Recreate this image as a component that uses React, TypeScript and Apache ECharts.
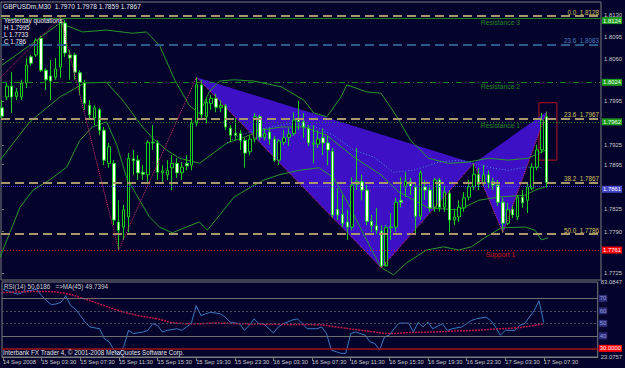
import React, { useEffect, useRef } from "react";
import * as echarts from "echarts";

// ---------- time axis ----------
const timeTickIdx = [0, 8, 16, 24, 32, 40, 48, 56, 64, 72, 80, 88, 96, 104, 112];
const timeTickLabels = [
  "14 Sep 2008", "15 Sep 03:30", "15 Sep 07:30", "15 Sep 11:30", "15 Sep 15:30",
  "15 Sep 19:30", "15 Sep 23:30", "16 Sep 03:30", "16 Sep 07:30", "16 Sep 11:30",
  "16 Sep 15:30", "16 Sep 19:30", "16 Sep 23:30", "17 Sep 03:30", "17 Sep 07:30",
];

// ---------- GBPUSD M30 candles ----------
const opens = [
  1.7984, 1.8001, 1.8018, 1.8002, 1.8001, 1.8023, 1.8064, 1.8067, 1.8093, 1.8043,
  1.8034, 1.8032, 1.8048, 1.8117, 1.8067, 1.8067, 1.8039, 1.8023, 1.7988, 1.7968,
  1.7981, 1.7949, 1.7897, 1.7897, 1.7805, 1.7797, 1.7813, 1.7904, 1.7902, 1.7883,
  1.7879, 1.7930, 1.7929, 1.7882, 1.7879, 1.7890, 1.7897, 1.7882, 1.7897, 1.7894,
  1.7960, 1.8020, 1.7970, 1.7991, 1.7999, 1.7984, 1.7987, 1.7952, 1.7944, 1.7944,
  1.7933, 1.7915, 1.7935, 1.7970, 1.7938, 1.7946, 1.7935, 1.7902, 1.7930, 1.7938,
  1.7944, 1.7966, 1.7962, 1.7952, 1.7927, 1.7927, 1.7937, 1.7929, 1.7916, 1.7825,
  1.7817, 1.7805, 1.7797, 1.7864, 1.7868, 1.7855, 1.7806, 1.7799, 1.7791, 1.7736,
  1.7796, 1.7797, 1.7839, 1.7861, 1.7868, 1.7860, 1.7814, 1.7860, 1.7855, 1.7828,
  1.7871, 1.7828, 1.7850, 1.7808, 1.7813, 1.7827, 1.7844, 1.7860, 1.7880, 1.7866,
  1.7879, 1.7868, 1.7863, 1.7836, 1.7803, 1.7825, 1.7813, 1.7844, 1.7839, 1.7858,
  1.7891, 1.7918, 1.7970,
];
const closes = [
  1.7971, 1.8018, 1.8001, 1.8009, 1.8023, 1.8051, 1.8054, 1.8090, 1.8043, 1.8028,
  1.8026, 1.8045, 1.8117, 1.8070, 1.8062, 1.8040, 1.8024, 1.7991, 1.7973, 1.7984,
  1.7949, 1.7902, 1.7923, 1.7808, 1.7792, 1.7824, 1.7905, 1.7901, 1.7882, 1.7880,
  1.7930, 1.7929, 1.7883, 1.7885, 1.7886, 1.7897, 1.7882, 1.7891, 1.7893, 1.7960,
  1.8020, 1.7973, 1.7993, 1.7999, 1.7985, 1.7988, 1.7954, 1.7941, 1.7941, 1.7933,
  1.7913, 1.7935, 1.7970, 1.7938, 1.7944, 1.7935, 1.7902, 1.7932, 1.7937, 1.7943,
  1.7965, 1.7962, 1.7954, 1.7929, 1.7929, 1.7935, 1.7929, 1.7918, 1.7816, 1.7816,
  1.7803, 1.7797, 1.7863, 1.7869, 1.7855, 1.7806, 1.7799, 1.7792, 1.7736, 1.7796,
  1.7797, 1.7836, 1.7836, 1.7869, 1.7861, 1.7814, 1.7882, 1.7855, 1.7827, 1.7871,
  1.7828, 1.7852, 1.7808, 1.7813, 1.7828, 1.7843, 1.7860, 1.7880, 1.7864, 1.7879,
  1.7866, 1.7863, 1.7836, 1.7803, 1.7824, 1.7816, 1.7844, 1.7835, 1.7860, 1.7891,
  1.7918, 1.7965, 1.7867,
];
const highs = [
  1.7996, 1.8023, 1.8040, 1.8015, 1.8028, 1.8062, 1.8067, 1.8093, 1.8097, 1.8046,
  1.8059, 1.8062, 1.8126, 1.8122, 1.8075, 1.8070, 1.8043, 1.8028, 1.7996, 1.7988,
  1.7984, 1.7954, 1.7929, 1.7902, 1.7839, 1.7832, 1.7913, 1.7918, 1.7910, 1.7894,
  1.7933, 1.7957, 1.7933, 1.7894, 1.7902, 1.7910, 1.7905, 1.7899, 1.7910, 1.7965,
  1.8032, 1.8028, 1.7999, 1.8004, 1.8006, 1.7996, 1.7990, 1.7957, 1.7968, 1.7949,
  1.7937, 1.7941, 1.7976, 1.7973, 1.7952, 1.7952, 1.7940, 1.7935, 1.7949, 1.7952,
  1.7977, 1.7995, 1.7976, 1.7957, 1.7957, 1.7949, 1.7952, 1.7940, 1.7921, 1.7858,
  1.7847, 1.7824, 1.7875, 1.7921, 1.7879, 1.7863, 1.7816, 1.7827, 1.7800, 1.7800,
  1.7819, 1.7843, 1.7875, 1.7883, 1.7874, 1.7866, 1.7886, 1.7871, 1.7863, 1.7874,
  1.7874, 1.7861, 1.7855, 1.7824, 1.7839, 1.7852, 1.7871, 1.7897, 1.7890, 1.7894,
  1.7886, 1.7874, 1.7871, 1.7843, 1.7835, 1.7832, 1.7847, 1.7855, 1.7866, 1.7897,
  1.7926, 1.7976, 1.7978,
];
const lows = [
  1.7968, 1.7996, 1.7976, 1.7996, 1.7996, 1.8015, 1.8050, 1.8064, 1.8040, 1.8012,
  1.7996, 1.8028, 1.8031, 1.8064, 1.8028, 1.8028, 1.8004, 1.7981, 1.7968, 1.7957,
  1.7941, 1.7894, 1.7890, 1.7800, 1.7761, 1.7777, 1.7789, 1.7879, 1.7871, 1.7871,
  1.7868, 1.7918, 1.7871, 1.7868, 1.7871, 1.7855, 1.7874, 1.7871, 1.7886, 1.7886,
  1.7955, 1.7965, 1.7960, 1.7981, 1.7977, 1.7977, 1.7949, 1.7930, 1.7933, 1.7918,
  1.7890, 1.7910, 1.7930, 1.7933, 1.7933, 1.7926, 1.7899, 1.7894, 1.7926, 1.7924,
  1.7940, 1.7949, 1.7937, 1.7924, 1.7897, 1.7921, 1.7910, 1.7894, 1.7811, 1.7808,
  1.7797, 1.7777, 1.7792, 1.7855, 1.7839, 1.7800, 1.7789, 1.7786, 1.7733, 1.7742,
  1.7777, 1.7789, 1.7828, 1.7844, 1.7847, 1.7785, 1.7808, 1.7839, 1.7821, 1.7821,
  1.7821, 1.7821, 1.7789, 1.7800, 1.7805, 1.7821, 1.7839, 1.7855, 1.7855, 1.7860,
  1.7858, 1.7855, 1.7830, 1.7788, 1.7800, 1.7811, 1.7808, 1.7827, 1.7819, 1.7855,
  1.7886, 1.7913, 1.7859,
];

// ---------- bands (bar position, price) ----------
const upperIdx = [0, 5.7, 11.9, 16.6, 21.5, 26.8, 29.7, 32.4, 35.5, 38.5, 40.6, 42.6, 44.7, 47.7, 51.8, 57.4, 62.1, 64.1, 66.8, 69.7, 70.9, 75.0, 77.9, 79.9, 81.6, 84.0, 87.7, 91.8, 95.9, 100.0, 104.1, 108.2, 111.9];
const upperVal = [1.8051, 1.8082, 1.8117, 1.8103, 1.8106, 1.8101, 1.8103, 1.8082, 1.8028, 1.7988, 1.7975, 1.8009, 1.8026, 1.8028, 1.8026, 1.8017, 1.7996, 1.7976, 1.7970, 1.8001, 1.8020, 1.8009, 1.8007, 1.7985, 1.7965, 1.7933, 1.7905, 1.7897, 1.7899, 1.7905, 1.7902, 1.7905, 1.7918];
const midIdx = [-0.4, 5.7, 11.9, 17.0, 21.5, 24.8, 28.9, 30.9, 33.8, 36.5, 40.6, 46.3, 49.8, 53.3, 57.4, 62.1, 66.8, 72.3, 77.9, 81.6, 87.7, 93.9, 98.0, 102.0, 107.6, 109.6, 111.7];
const midVal = [1.7902, 1.7962, 1.8001, 1.8023, 1.8024, 1.7996, 1.7954, 1.7937, 1.7918, 1.7905, 1.7897, 1.7929, 1.7938, 1.7949, 1.7954, 1.7954, 1.7941, 1.7907, 1.7879, 1.7852, 1.7827, 1.7824, 1.7839, 1.7844, 1.7847, 1.7855, 1.7860];
const lowerIdx = [-0.4, 1.6, 3.7, 6.4, 9.8, 13.3, 16.0, 18.6, 21.5, 23.6, 25.6, 28.3, 30.3, 32.4, 35.0, 37.9, 40.6, 42.2, 45.1, 47.7, 51.2, 53.9, 57.0, 61.1, 65.2, 68.2, 71.3, 74.4, 77.9, 80.5, 83.2, 87.3, 90.8, 93.9, 96.5, 99.4, 102.7, 107.6, 109.6, 110.9, 112.3];
const lowerVal = [1.7750, 1.7788, 1.7828, 1.7855, 1.7871, 1.7891, 1.7933, 1.7954, 1.7962, 1.7926, 1.7875, 1.7839, 1.7813, 1.7797, 1.7788, 1.7797, 1.7805, 1.7792, 1.7819, 1.7844, 1.7860, 1.7871, 1.7879, 1.7886, 1.7890, 1.7874, 1.7832, 1.7785, 1.7734, 1.7722, 1.7741, 1.7761, 1.7766, 1.7761, 1.7766, 1.7781, 1.7796, 1.7797, 1.7792, 1.7777, 1.7780];
const maIdxMain = [46.3, 48.8, 53.9, 59.0, 64.1, 68.2, 72.3, 76.4, 80.5, 84.6, 89.8, 93.9, 97.3, 100.6, 104.1, 107.6, 111.3];
const maValMain = [1.7929, 1.7941, 1.7952, 1.7959, 1.7955, 1.7941, 1.7918, 1.7907, 1.7883, 1.7886, 1.7899, 1.7902, 1.7897, 1.7890, 1.7886, 1.7891, 1.7890];

// ---------- zigzag & harmonic pattern ----------
const zzIdx = [-0.4, 12, 24, 40, 78, 97, 103, 112];
const zzPrice = [1.8031, 1.8126, 1.7761, 1.8032, 1.7733, 1.7897, 1.7788, 1.7978];
const patIdx = [40, 78, 97, 103, 112]; // X A B C D
const patPrice = [1.8032, 1.7733, 1.7897, 1.7788, 1.7978];
const przIdx = [110.4, 114.1];
const przPrice = [1.7992, 1.7902];

// ---------- levels ----------
const fibValues = [1.8128, 1.7967, 1.7867, 1.7786];
const fibNames = ["0.0", "23.6", "38.2", "50.0"];
const blueFibValue = 1.8083;
const blueFibName = "23.6";
const srValues = [1.8124, 1.8024, 1.7962, 1.7761];
const srNames = ["Resistance 3", "Resistance 2", "Resistance 1", "Support 1"];
const bidPrice = 1.7867;
const dotLinePrice = 1.7861;
const priceTicks = [1.813, 1.8095, 1.806, 1.7995, 1.7925, 1.7895, 1.7825, 1.779, 1.7725];

// ---------- RSI ----------
const rsiIdx = [0, 1, 3, 5, 6, 7, 8, 9, 10, 11, 12, 13, 14, 15, 16, 17, 18, 20, 21, 22, 23, 24, 25, 26, 27, 29, 30, 31, 32, 33, 34, 36, 37, 38, 39, 40, 41, 42, 43, 45, 46, 47, 49, 50, 51, 52, 53, 54, 56, 57, 58, 60, 61, 62, 63, 65, 66, 67, 68, 69, 70, 71, 72, 73, 75, 76, 77, 78, 79, 80, 81, 82, 84, 85, 86, 87, 88, 89, 91, 92, 93, 95, 97, 98, 100, 101, 102, 103, 104, 106, 107, 108, 109, 110, 111, 112];
const rsiVal = [77.3, 76.0, 73.4, 76.0, 76.5, 77.3, 72.1, 68.1, 65.0, 65.5, 66.8, 72.1, 64.2, 61.5, 56.3, 51.0, 47.1, 45.7, 37.8, 35.2, 28.6, 24.7, 31.3, 44.4, 41.8, 43.1, 44.4, 49.7, 48.4, 43.1, 44.4, 45.7, 44.4, 47.1, 50.0, 64.2, 56.3, 57.6, 58.9, 57.6, 55.0, 51.0, 49.7, 44.4, 48.4, 53.6, 49.7, 49.7, 42.3, 47.1, 49.7, 52.8, 53.6, 49.7, 45.7, 45.7, 47.1, 41.8, 28.6, 27.3, 26.0, 26.0, 41.8, 43.1, 40.5, 35.2, 33.9, 28.6, 39.1, 40.5, 45.7, 50.2, 50.2, 43.1, 51.0, 47.1, 51.0, 45.7, 49.7, 44.4, 45.7, 47.1, 52.3, 53.6, 55.0, 52.3, 47.1, 40.5, 44.4, 44.4, 48.4, 49.7, 55.0, 60.2, 68.1, 50.6];
const rsiMaIdx = [0, 8, 13, 16, 20, 24, 28, 32, 36, 40, 44, 49, 57, 65, 69, 73, 77, 80, 84, 89, 94, 98, 102, 106, 109, 112];
const rsiMaVal = [74.7, 75.5, 73.9, 70.7, 65.5, 60.2, 56.3, 53.6, 50.2, 49.7, 50.2, 49.7, 49.2, 48.9, 47.1, 45.0, 43.1, 41.8, 42.6, 43.1, 43.9, 44.4, 45.5, 46.3, 47.8, 49.7];
const rsiLevels = [70, 60, 50, 40, 30];
const rsiRange = [23.0757, 83.0847];

// ---------- styling ----------
const BG = "#03032c";
const FONT = "'Liberation Sans', sans-serif";
const FS = 6.3;
const FS_TIME = 5.8;
const FS_BOX = 5.9;
const AXIS_TEXT = "#c8c8c8";
const BORDER = "#7c7c7c";
const CANDLE_GREEN = "#18d018";
const BAND_GREEN = "#2c962c";
const KHAKI = "#a8976a";
const KHAKI_TEXT = "#d4c25a";
const BLUE_DASH = "#2b5a8a";
const BLUE_TEXT = "#4d7dbf";
const SR_GREEN = "#1f7f1f";
const SR_TEXT = "#22841f";
const RED = "#d01818";
const TRI = "#3d10c6";
const PINK = "#d0306a";
const CYAN = "#3f8fd0";

const X_MIN = -0.205;
const X_MAX = 123.16;

function pairs(xs: number[], ys: number[]) {
  return xs.map((x, i) => [x, ys[i]]);
}

function buildOption() {
  const candleData = opens.map((o, i) => [i, o, closes[i], lows[i], highs[i]]);
  const tri = [
    [patIdx[0], patPrice[0], patIdx[1], patPrice[1], patIdx[2], patPrice[2]],
    [patIdx[2], patPrice[2], patIdx[3], patPrice[3], patIdx[4], patPrice[4]],
  ];
  const boxLabel = (text: string, bg: string, fg: string, dy = 0) => ({
    show: true,
    position: "end",
    distance: 1,
    offset: [0, dy],
    formatter: text,
    backgroundColor: bg,
    color: fg,
    fontSize: FS_BOX,
    fontFamily: FONT,
    padding: [1, 1, 0, 1],
  });

  const mainMarkLines: any[] = [];
  fibValues.forEach((v, k) => {
    mainMarkLines.push({
      yAxis: v,
      lineStyle: { color: KHAKI, type: [9, 5], width: 2 },
      label: {
        show: true, position: "insideEndTop", distance: [2, 1],
        formatter: `${fibNames[k]}  ${v.toFixed(4)}`,
        color: KHAKI_TEXT, fontSize: FS, fontFamily: FONT,
      },
    });
  });
  mainMarkLines.push({
    yAxis: blueFibValue,
    lineStyle: { color: BLUE_DASH, type: [9, 5], width: 2 },
    label: {
      show: true, position: "insideEndTop", distance: [2, 1],
      formatter: `${blueFibName}  ${blueFibValue.toFixed(4)}`,
      color: BLUE_TEXT, fontSize: FS, fontFamily: FONT,
    },
  });
  const srStyles = [
    { color: SR_GREEN, type: "solid", width: 1 },
    { color: SR_GREEN, type: [6, 3, 1, 3], width: 1 },
    { color: SR_GREEN, type: [1, 2], width: 1 },
    { color: RED, type: [1, 2], width: 1 },
  ];
  srValues.forEach((v, k) => {
    const isSup = k === 3;
    mainMarkLines.push({
      yAxis: v,
      lineStyle: srStyles[k],
      label: boxLabel(v.toFixed(4), isSup ? "#ff0000" : "#1f9a1f", isSup ? "#ffffff" : "#e8ffe8", k === 0 ? 2 : 0),
    });
  });
  mainMarkLines.push({
    yAxis: dotLinePrice,
    lineStyle: { color: "#3c3cff", type: [1, 1], width: 1 },
    label: boxLabel(dotLinePrice.toFixed(4), "#4646c8", "#ffffff", 3),
  });
  mainMarkLines.push({
    yAxis: bidPrice,
    lineStyle: { opacity: 0 },
    label: boxLabel(bidPrice.toFixed(4), "#ffffff", "#000000", -3),
  });

  const srTexts = srValues.map((v, k) => ({
    coord: [102.5, v],
    symbol: "circle",
    symbolSize: 1,
    itemStyle: { color: "rgba(0,0,0,0)" },
    label: {
      show: true, position: "bottom", distance: 0,
      formatter: srNames[k],
      color: k === 3 ? RED : SR_TEXT, fontSize: FS + 0.5, fontFamily: FONT,
    },
  }));

  const rsiMarkLines = rsiLevels.map((lv) => {
    const red = lv === 30;
    const solid = lv === 70 || lv === 40;
    return {
      yAxis: lv,
      lineStyle: red
        ? { color: "#a01414", type: "solid", width: 1.5 }
        : { color: solid ? "#6e6e6e" : "#4c4c5c", type: solid ? "solid" : [2, 2], width: 1 },
      label: red
        ? boxLabel(lv.toFixed(4), "#ff0000", "#ffffff")
        : boxLabel(String(lv), "#2c2c74", "#9a9ae0"),
    };
  });

  const textStyle = (fill: string, size = FS) => ({ fill, fontSize: size, fontFamily: FONT });

  return {
    animation: false,
    backgroundColor: BG,
    grid: [
      { left: 1, top: 2, width: 602, height: 278, show: true, borderColor: BORDER, borderWidth: 1, backgroundColor: "transparent" },
      { left: 1, top: 282, width: 602, height: 75, show: true, borderColor: BORDER, borderWidth: 1, backgroundColor: "transparent" },
    ],
    xAxis: [
      { type: "value", gridIndex: 0, min: X_MIN, max: X_MAX, show: false },
      {
        type: "value", gridIndex: 1, min: X_MIN, max: X_MAX,
        splitLine: { show: false },
        axisLine: { show: true, lineStyle: { color: BORDER } },
        axisTick: { show: true, customValues: timeTickIdx, length: 4, lineStyle: { color: BORDER } },
        axisLabel: {
          customValues: timeTickIdx,
          formatter: (v: number) => timeTickLabels[timeTickIdx.indexOf(Math.round(v))] ?? "",
          color: AXIS_TEXT, fontSize: FS_TIME, fontFamily: FONT, align: "left", margin: 2,
        },
      },
    ],
    yAxis: [
      {
        type: "value", gridIndex: 0, position: "right", min: 1.7714, max: 1.815, scale: true,
        splitLine: { show: false },
        axisLine: { show: false },
        axisTick: { show: true, customValues: priceTicks, length: 2, lineStyle: { color: BORDER } },
        axisLabel: { customValues: priceTicks, formatter: (v: number) => v.toFixed(4), color: AXIS_TEXT, fontSize: FS_BOX, fontFamily: FONT, margin: 3 },
      },
      {
        type: "value", gridIndex: 1, position: "right", min: rsiRange[0], max: rsiRange[1], scale: true,
        splitLine: { show: false },
        axisLine: { show: false },
        axisTick: { show: false },
        axisLabel: { customValues: [rsiRange[1], rsiRange[0]], formatter: (v: number) => v.toFixed(4), color: AXIS_TEXT, fontSize: FS_BOX, fontFamily: FONT, margin: 3 },
      },
    ],
    series: [
      {
        type: "custom", xAxisIndex: 0, yAxisIndex: 0, z: 1, silent: true,
        data: tri,
        encode: { x: [0, 2, 4], y: [1, 3, 5] },
        renderItem: (_p: any, api: any) => ({
          type: "polygon",
          shape: {
            points: [
              api.coord([api.value(0), api.value(1)]),
              api.coord([api.value(2), api.value(3)]),
              api.coord([api.value(4), api.value(5)]),
            ],
          },
          style: { fill: TRI },
        }),
      },
      {
        type: "line", xAxisIndex: 0, yAxisIndex: 0, z: 2, silent: true,
        data: [[-10, 1.79]], symbol: "none", lineStyle: { opacity: 0 },
        markLine: { silent: true, precision: 6, symbol: ["none", "none"], data: mainMarkLines },
        markPoint: { silent: true, data: srTexts },
        markArea: {
          silent: true,
          itemStyle: { color: "rgba(0,0,0,0)", borderColor: "#b4141e", borderWidth: 1 },
          data: [[{ xAxis: przIdx[0], yAxis: przPrice[0] }, { xAxis: przIdx[1], yAxis: przPrice[1] }]],
        },
      },
      { type: "line", xAxisIndex: 0, yAxisIndex: 0, z: 3, silent: true, data: pairs(upperIdx, upperVal), symbol: "none", lineStyle: { color: BAND_GREEN, width: 1 } },
      { type: "line", xAxisIndex: 0, yAxisIndex: 0, z: 3, silent: true, data: pairs(midIdx, midVal), symbol: "none", lineStyle: { color: BAND_GREEN, width: 1 } },
      { type: "line", xAxisIndex: 0, yAxisIndex: 0, z: 3, silent: true, data: pairs(lowerIdx, lowerVal), symbol: "none", lineStyle: { color: BAND_GREEN, width: 1 } },
      { type: "line", xAxisIndex: 0, yAxisIndex: 0, z: 3, silent: true, data: pairs(maIdxMain, maValMain), symbol: "none", lineStyle: { color: CYAN, width: 1, type: [1, 2] } },
      {
        type: "candlestick", xAxisIndex: 0, yAxisIndex: 0, z: 4, silent: true,
        dimensions: ["idx", "open", "close", "lowest", "highest"],
        encode: { x: 0, y: [1, 2, 3, 4] },
        data: candleData,
        barWidth: 3,
        itemStyle: { color: BG, color0: "#ffffff", borderColor: CANDLE_GREEN, borderColor0: CANDLE_GREEN, borderWidth: 1 },
      },
      { type: "line", xAxisIndex: 0, yAxisIndex: 0, z: 5, silent: true, data: pairs(zzIdx, zzPrice), symbol: "none", lineStyle: { color: PINK, width: 1, type: [1, 1] } },
      { type: "line", xAxisIndex: 1, yAxisIndex: 1, z: 3, silent: true, data: pairs(rsiIdx, rsiVal), symbol: "none", lineStyle: { color: "#3a78c0", width: 1 } },
      { type: "line", xAxisIndex: 1, yAxisIndex: 1, z: 4, silent: true, data: pairs(rsiMaIdx, rsiMaVal), symbol: "none", smooth: true, lineStyle: { color: "#c01848", width: 1.5, type: [2, 1] } },
      {
        type: "line", xAxisIndex: 1, yAxisIndex: 1, z: 2, silent: true,
        data: [[-10, 50]], symbol: "none", lineStyle: { opacity: 0 },
        markLine: { silent: true, precision: 6, symbol: ["none", "none"], data: rsiMarkLines },
      },
    ],
    graphic: [
      { type: "text", x: 3, y: 6, z: 100, style: { ...textStyle("#e6e6e6", 6.6), text: "GBPUSDm,M30  1.7970 1.7978 1.7859 1.7867", verticalAlign: "middle" } },
      { type: "text", x: 4, y: 20.5, z: 100, style: { ...textStyle("#f0f0f0"), text: "Yesterday quotations:", verticalAlign: "middle" } },
      { type: "text", x: 4, y: 27.5, z: 100, style: { ...textStyle("#f0f0f0"), text: "H 1.7995", verticalAlign: "middle" } },
      { type: "text", x: 4, y: 34.5, z: 100, style: { ...textStyle("#f0f0f0"), text: "L 1.7733", verticalAlign: "middle" } },
      { type: "text", x: 4, y: 41.5, z: 100, style: { ...textStyle("#f0f0f0"), text: "C 1.786", verticalAlign: "middle" } },
      { type: "text", x: 4, y: 286, z: 100, style: { ...textStyle("#d0d0d0"), text: "RSI(14) 50.6186   =>MA(45) 49.7394", verticalAlign: "middle" } },
      { type: "text", x: 3, y: 352, z: 100, style: { ...textStyle("#e0e0e0"), text: "Interbank FX Trader 4, © 2001-2008 MetaQuotes Software Corp.", verticalAlign: "middle" } },
    ],
  };
}

export default function App() {
  const ref = useRef<HTMLDivElement>(null);
  useEffect(() => {
    document.body.style.margin = "0";
    document.body.style.background = BG;
    const chart = echarts.init(ref.current as HTMLDivElement, null, { renderer: "svg" });
    chart.setOption(buildOption() as any);
    return () => chart.dispose();
  }, []);
  return <div ref={ref} style={{ width: 625, height: 368 }} />;
}
